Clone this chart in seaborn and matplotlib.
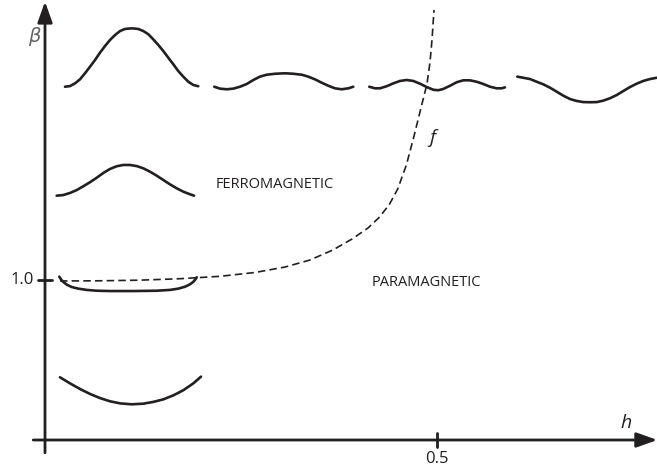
import numpy as np
import pandas as pd
import seaborn as sns
import matplotlib
matplotlib.use("Agg")
import matplotlib.pyplot as plt

# critical line f (h, beta)
f_h = [0.0191, 0.0702, 0.1212, 0.1722, 0.2232, 0.2679, 0.3061, 0.3380, 0.3673,
       0.3916, 0.4120, 0.4260, 0.4390, 0.4500, 0.4610, 0.4707, 0.4770, 0.4821,
       0.4872, 0.4911, 0.4936, 0.4962]
f_beta = [0.994, 0.995, 0.999, 1.008, 1.023, 1.047, 1.081, 1.125, 1.188,
          1.256, 1.325, 1.390, 1.470, 1.570, 1.720, 1.900, 2.025, 2.125,
          2.225, 2.362, 2.500, 2.688]

# little profile sketches drawn on the diagram
prof1_h = [0.0255, 0.0319, 0.0383, 0.0446, 0.0510, 0.0574, 0.0638, 0.0702, 0.0765,
           0.0829, 0.0893, 0.0957, 0.1020, 0.1106, 0.1190, 0.1254, 0.1318, 0.1381,
           0.1445, 0.1509, 0.1573, 0.1637, 0.1700, 0.1764, 0.1828, 0.1892, 0.1955]
prof1_b = [2.208, 2.212, 2.229, 2.254, 2.292, 2.333, 2.375, 2.421, 2.462,
           2.500, 2.531, 2.556, 2.569, 2.573, 2.569, 2.556, 2.536, 2.504,
           2.469, 2.431, 2.389, 2.348, 2.306, 2.271, 2.239, 2.219, 2.211]

prof2_h = [0.2159, 0.2232, 0.2318, 0.2402, 0.2487, 0.2573, 0.2657, 0.2742, 0.2828,
           0.2934, 0.3061, 0.3167, 0.3274, 0.3358, 0.3444, 0.3529, 0.3614, 0.3699,
           0.3784, 0.3869, 0.3932]
prof2_b = [2.208, 2.196, 2.192, 2.196, 2.208, 2.225, 2.250, 2.271, 2.283,
           2.289, 2.292, 2.289, 2.283, 2.271, 2.254, 2.233, 2.214, 2.198,
           2.192, 2.198, 2.208]

prof3_h = [0.4136, 0.4209, 0.4273, 0.4358, 0.4443, 0.4528, 0.4614, 0.4698, 0.4783,
           0.4869, 0.4953, 0.5017, 0.5080, 0.5166, 0.5251, 0.5335, 0.5421, 0.5506,
           0.5591, 0.5676, 0.5761, 0.5825, 0.5867]
prof3_b = [2.208, 2.198, 2.198, 2.211, 2.229, 2.244, 2.250, 2.244, 2.227,
           2.206, 2.189, 2.186, 2.194, 2.214, 2.236, 2.248, 2.248, 2.239,
           2.225, 2.208, 2.198, 2.198, 2.204]

prof4_h = [0.6024, 0.6101, 0.6186, 0.6272, 0.6356, 0.6441, 0.6527, 0.6611, 0.6697,
           0.6782, 0.6866, 0.6952, 0.7037, 0.7121, 0.7207, 0.7292, 0.7376, 0.7462,
           0.7547, 0.7631, 0.7717, 0.7802]
prof4_b = [2.271, 2.264, 2.256, 2.239, 2.223, 2.202, 2.177, 2.152, 2.131,
           2.119, 2.112, 2.111, 2.112, 2.121, 2.136, 2.156, 2.181, 2.206,
           2.227, 2.244, 2.256, 2.264]

prof5_h = [0.0149, 0.0233, 0.0319, 0.0404, 0.0489, 0.0574, 0.0659, 0.0744, 0.0829,
           0.0915, 0.0999, 0.1084, 0.1170, 0.1254, 0.1339, 0.1425, 0.1509, 0.1594,
           0.1680, 0.1764, 0.1849, 0.1901]
prof5_b = [1.527, 1.531, 1.544, 1.562, 1.586, 1.611, 1.639, 1.669, 1.694,
           1.711, 1.719, 1.719, 1.712, 1.698, 1.677, 1.652, 1.625, 1.598,
           1.573, 1.552, 1.536, 1.527]

prof6_h = [0.0182, 0.0204, 0.0233, 0.0277, 0.0341, 0.0425, 0.0532, 0.0659, 0.0829,
           0.1126, 0.1425, 0.1594, 0.1700, 0.1786, 0.1849, 0.1892, 0.1922, 0.1935]
prof6_b = [1.021, 1.004, 0.988, 0.971, 0.956, 0.946, 0.938, 0.933, 0.931,
           0.931, 0.933, 0.938, 0.946, 0.958, 0.973, 0.989, 1.006, 1.017]

prof7_h = [0.0191, 0.0319, 0.0446, 0.0574, 0.0702, 0.0829, 0.0957, 0.1106, 0.1254,
           0.1381, 0.1509, 0.1637, 0.1764, 0.1892, 0.1990]
prof7_b = [0.392, 0.354, 0.319, 0.288, 0.262, 0.242, 0.229, 0.223, 0.227,
           0.238, 0.254, 0.279, 0.311, 0.354, 0.396]

profiles = [(prof1_h, prof1_b), (prof2_h, prof2_b), (prof3_h, prof3_b),
            (prof4_h, prof4_b), (prof5_h, prof5_b), (prof6_h, prof6_b),
            (prof7_h, prof7_b)]

x_ticks = [0.5]
x_tick_labels = ["0.5"]
y_ticks = [1.0]
y_tick_labels = ["1.0"]

ink = "#231f20"

sns.set_style("white")
plt.rcParams['font.family'] = ['Open Sans', 'DejaVu Sans']

fig = plt.figure(figsize=(6.57, 4.73), dpi=100)
ax = fig.add_axes([0, 0, 1, 1])
ax.set_xlim(-45 / 784, 612 / 784)
ax.set_ylim(-33 / 160, 440 / 160)

# axes with arrow heads
arrow = dict(arrowstyle="-|>,head_length=0.7,head_width=0.25", lw=2.0,
             color=ink, mutation_scale=18, shrinkA=0, shrinkB=0)
ax.annotate("", xy=(0.781, 0), xytext=(-0.015, 0), arrowprops=arrow)
ax.annotate("", xy=(0, 2.74), xytext=(0, -0.08), arrowprops=arrow)

for t, lab in zip(x_ticks, x_tick_labels):
    ax.plot([t, t], [-0.044, 0.044], color=ink, lw=2.0)
    ax.text(t, -0.068, lab, ha="center", va="top", fontsize=12, color=ink)
for t, lab in zip(y_ticks, y_tick_labels):
    ax.plot([-0.009, 0.009], [t, t], color=ink, lw=2.0)
    ax.text(-0.014, t, lab, ha="right", va="center", fontsize=12, color=ink)

# dashed critical line
f_df = pd.DataFrame({"h": f_h, "beta": f_beta})
sns.lineplot(data=f_df, x="h", y="beta", ax=ax, sort=False, color=ink,
             lw=1.2, linestyle=(0, (4.5, 2.5)))

for ph, pb in profiles:
    sns.lineplot(x=ph, y=pb, ax=ax, sort=False, color=ink, lw=1.9,
                 solid_capstyle="round", solid_joinstyle="round")

ax.axis("off")
ax.text(-10 / 784, (440 - 36) / 160, r"$\beta$", fontsize=14,
        color="#666666", ha="center", va="center")
ax.text((626 - 45) / 784, (440 - 423) / 160, "h", fontsize=14, style="italic",
        color=ink, ha="center", va="center")
ax.text((432 - 45) / 784, (440 - 138) / 160, "f", fontsize=14, style="italic",
        color=ink, ha="center", va="center")
ax.text((275 - 45) / 784, (440 - 185) / 160, "FERROMAGNETIC", fontsize=10.5,
        color=ink, ha="center", va="center")
ax.text((426 - 45) / 784, (440 - 282) / 160, "PARAMAGNETIC", fontsize=10.5,
        color=ink, ha="center", va="center")

fig.savefig("out.png", dpi=100)
